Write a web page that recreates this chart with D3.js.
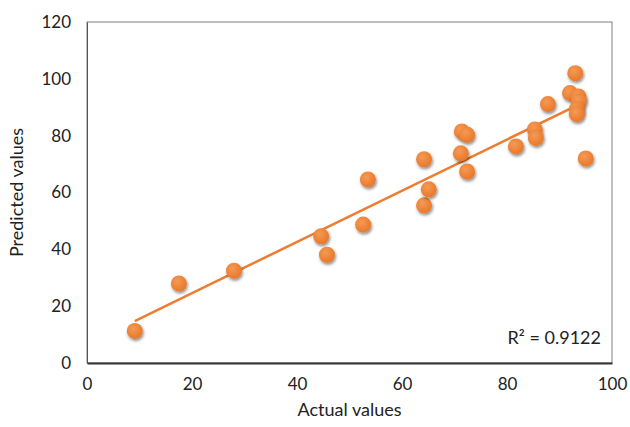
<!DOCTYPE html>
<html>
<head>
<meta charset="utf-8">
<script src="https://cdn.jsdelivr.net/npm/d3@7"></script>
<style>
  body { margin: 0; background: #fff; }
  text { font-family: Lato, "Open Sans", sans-serif; fill: #222; }
</style>
</head>
<body>
<svg id="chart" width="630" height="427"></svg>
<script>
// actual vs predicted
const actual = [9.1, 17.5, 28, 44.6, 45.7, 52.6, 53.5, 64.2, 64.2, 65.1,
                71.4, 72.4, 71.2, 72.4, 81.7, 85.3, 85.5, 87.8, 93, 92,
                93.6, 93.7, 93.3, 93.3, 95];
const predicted = [11.3, 28, 32.5, 44.6, 38.1, 48.7, 64.6, 71.7, 55.5, 61.1,
                   81.5, 80.3, 73.8, 67.4, 76.2, 82.2, 79.2, 91.1, 102, 95,
                   93.8, 92.1, 89.3, 87.6, 72];
const xTicks = [0, 20, 40, 60, 80, 100];
const yTicks = [0, 20, 40, 60, 80, 100, 120];
const r2Label = 'R² = 0.9122';

const points = actual.map((a, i) => ({ x: a, y: predicted[i] }));

const svg = d3.select('#chart');
const margin = { top: 22, right: 18, bottom: 64, left: 87 };
const innerWidth = 630 - margin.left - margin.right;
const innerHeight = 427 - margin.top - margin.bottom;

const xScale = d3.scaleLinear().domain([0, 100]).range([0, innerWidth]);
const yScale = d3.scaleLinear().domain([0, 120]).range([innerHeight, 0]);

const defs = svg.append('defs');
const grad = defs.append('radialGradient')
  .attr('id', 'dot')
  .attr('cx', '40%').attr('cy', '35%').attr('r', '65%');
grad.append('stop').attr('offset', '0%').attr('stop-color', '#f59a55');
grad.append('stop').attr('offset', '100%').attr('stop-color', '#e8782a');

const shadow = defs.append('filter').attr('id', 'shadow')
  .attr('x', '-50%').attr('y', '-50%').attr('width', '200%').attr('height', '200%');
shadow.append('feDropShadow')
  .attr('dx', 1).attr('dy', 2).attr('stdDeviation', 1.6)
  .attr('flood-color', '#000').attr('flood-opacity', 0.45);

const g = svg.append('g')
  .attr('transform', `translate(${margin.left},${margin.top})`);

// plot frame
g.append('rect')
  .attr('width', innerWidth).attr('height', innerHeight)
  .attr('fill', 'none').attr('stroke', '#7f7f7f').attr('stroke-width', 1);

const xAxis = d3.axisBottom(xScale).tickValues(xTicks).tickSize(0).tickPadding(15);
const yAxis = d3.axisLeft(yScale).tickValues(yTicks).tickSize(0).tickPadding(16);

const xAxisG = g.append('g')
  .attr('transform', `translate(0,${innerHeight})`)
  .attr('font-size', 17)
  .call(xAxis);
xAxisG.select('.domain').attr('stroke', '#333').attr('stroke-width', 2);
xAxisG.selectAll('text').attr('font-size', 17).attr('fill', '#222');

const yAxisG = g.append('g').attr('font-size', 17).call(yAxis);
yAxisG.select('.domain').attr('stroke', '#555');
yAxisG.selectAll('text').attr('font-size', 17).attr('fill', '#222');

// least squares trendline
const mx = d3.mean(points, d => d.x);
const my = d3.mean(points, d => d.y);
const slope = d3.sum(points, d => (d.x - mx) * (d.y - my)) / d3.sum(points, d => (d.x - mx) ** 2);
const intercept = my - slope * mx;
const xr = d3.extent(points, d => d.x);

g.append('path')
  .datum(xr.map(x => ({ x, y: intercept + slope * x })))
  .attr('fill', 'none')
  .attr('stroke', '#ed7d31')
  .attr('stroke-width', 2.5)
  .attr('d', d3.line().x(d => xScale(d.x)).y(d => yScale(d.y)));

g.selectAll('.pt').data(points)
  .enter().append('circle')
  .attr('class', 'pt')
  .attr('cx', d => xScale(d.x))
  .attr('cy', d => yScale(d.y))
  .attr('r', 8)
  .attr('fill', 'url(#dot)')
  .attr('filter', 'url(#shadow)');

g.append('text')
  .attr('x', innerWidth - 11)
  .attr('y', innerHeight - 19)
  .attr('text-anchor', 'end')
  .attr('font-size', 18)
  .text(r2Label);

g.append('text')
  .attr('x', innerWidth / 2)
  .attr('y', innerHeight + 53)
  .attr('text-anchor', 'middle')
  .attr('font-size', 18)
  .text('Actual values');

g.append('text')
  .attr('transform', `translate(-64,${innerHeight / 2}) rotate(-90)`)
  .attr('text-anchor', 'middle')
  .attr('font-size', 18)
  .text('Predicted values');
</script>
</body>
</html>
